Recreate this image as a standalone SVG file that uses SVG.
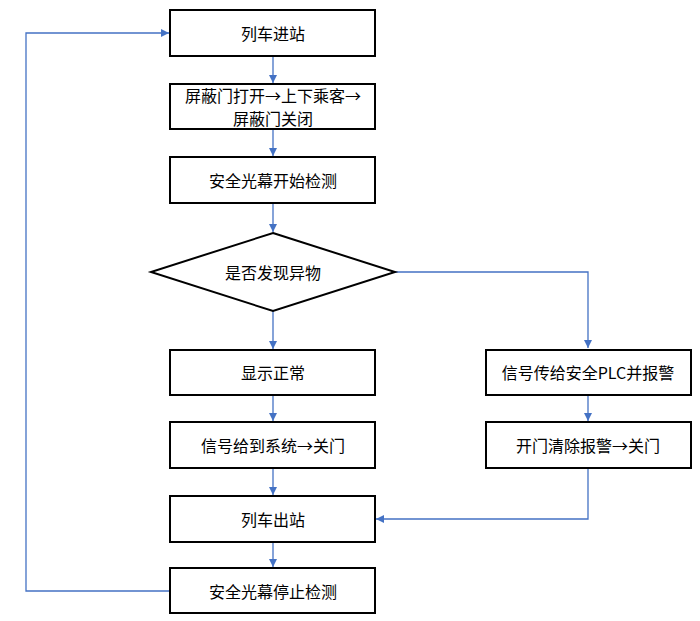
<svg xmlns="http://www.w3.org/2000/svg" width="700" height="621" viewBox="0 0 700 621">
<style>
.n{fill:#fff;stroke:#000;stroke-width:2}
.t{font-family:"Noto Sans CJK SC","Liberation Sans",sans-serif;font-size:16px;fill:#000;text-anchor:middle;dominant-baseline:central}
.c{fill:none;stroke:#4472C4;stroke-width:1.3}
</style>
<defs><marker id="a" viewBox="0 0 10 10" refX="10" refY="5" markerWidth="8" markerHeight="8" markerUnits="userSpaceOnUse" orient="auto"><path d="M0,0L10,5L0,10z" fill="#4472C4"/></marker></defs>
<rect width="700" height="621" fill="#fff"/>
<g id="connectors">
<path class="c" d="M273,56V83" marker-end="url(#a)"/>
<path class="c" d="M273,129V156" marker-end="url(#a)"/>
<path class="c" d="M273,203V232" marker-end="url(#a)"/>
<path class="c" d="M273,311V349" marker-end="url(#a)"/>
<path class="c" d="M273,395V421" marker-end="url(#a)"/>
<path class="c" d="M273,468V495" marker-end="url(#a)"/>
<path class="c" d="M273,542V567" marker-end="url(#a)"/>
<path class="c" d="M170,591H26V33H169" marker-end="url(#a)"/>
<path class="c" d="M395,272H588V348" marker-end="url(#a)"/>
<path class="c" d="M588,395V421" marker-end="url(#a)"/>
<path class="c" d="M588,468V519H376" marker-end="url(#a)"/>
</g>
<g id="n1"><rect class="n" x="170" y="10" width="205" height="46"/><text class="t" x="273" y="33">列车进站</text></g>
<g id="n2"><rect class="n" x="170" y="84" width="205" height="45"/><text class="t" x="273" y="95">屏蔽门打开→上下乘客→</text><text class="t" x="273" y="118">屏蔽门关闭</text></g>
<g id="n3"><rect class="n" x="170" y="157" width="205" height="46"/><text class="t" x="273" y="180">安全光幕开始检测</text></g>
<g id="n4"><polygon class="n" points="273,233 395,272 273,311 151,272"/><text class="t" x="273" y="272">是否发现异物</text></g>
<g id="n5"><rect class="n" x="170" y="350" width="205" height="45"/><text class="t" x="273" y="372">显示正常</text></g>
<g id="n6"><rect class="n" x="170" y="422" width="205" height="46"/><text class="t" x="273" y="445">信号给到系统→关门</text></g>
<g id="n7"><rect class="n" x="170" y="496" width="205" height="46"/><text class="t" x="273" y="519">列车出站</text></g>
<g id="n8"><rect class="n" x="170" y="568" width="205" height="45"/><text class="t" x="273" y="591">安全光幕停止检测</text></g>
<g id="n9"><rect class="n" x="486" y="350" width="205" height="45"/><text class="t" x="588" y="372">信号传给安全PLC并报警</text></g>
<g id="n10"><rect class="n" x="486" y="422" width="205" height="46"/><text class="t" x="588" y="445">开门清除报警→关门</text></g>
</svg>
